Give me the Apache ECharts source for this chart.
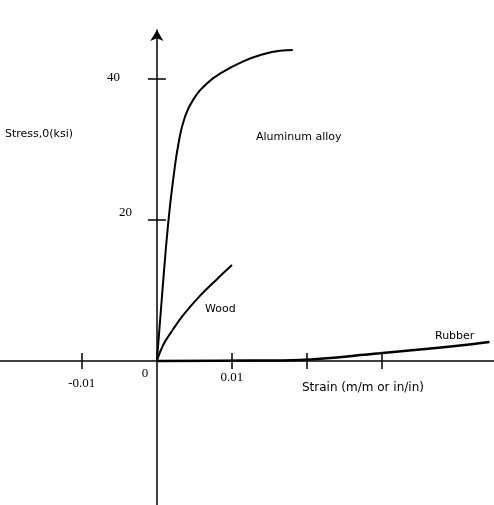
<!DOCTYPE html>
<html><head><meta charset="utf-8">
<script src="https://cdn.jsdelivr.net/npm/echarts@6/dist/echarts.min.js"></script>
<style>html,body{margin:0;padding:0;background:#fff}#c{width:494px;height:505px}</style>
</head><body><div id="c"></div>
<script>
// Data
const aluminumStrain = [0, 0.0007, 0.0015, 0.0022, 0.0029, 0.0037, 0.0048, 0.0067, 0.0088, 0.0115, 0.0141, 0.0164, 0.0181];
const aluminumStress = [0, 9.5, 19.5, 26, 31, 34.5, 37, 39.4, 41, 42.5, 43.5, 44, 44.1];
const woodStrain = [0, 0.0008, 0.0021, 0.0035, 0.0057, 0.008, 0.01];
const woodStress = [0, 2.2, 4.4, 6.5, 9.2, 11.6, 13.6];
const rubberStrain = [0, 0.0124, 0.019, 0.0297, 0.0368, 0.0413, 0.0443];
const rubberStress = [0, 0.05, 0.15, 1.1, 1.8, 2.3, 2.7];
const xTicks = [-0.01, 0.01, 0.02, 0.03];
const xTickLabels = [-0.01, 0, 0.01];
const yTicks = [20, 40];
const yTickLabels = [20, 40];
const labels = {
  stress: 'Stress,0(ksi)',
  strain: 'Strain (m/m or in/in)',
  aluminum: 'Aluminum alloy',
  wood: 'Wood',
  rubber: 'Rubber'
};

const pairs = (xs, ys) => xs.map((x, i) => [x, ys[i]]);
const W = 494, H = 505, GRID_TOP = 30;
const X_MIN = -0.0209, X_MAX = 0.0449, Y_MIN = -20.43, Y_MAX = 46.95;
// pixel position of the zero lines inside the grid (derived from the scales)
const zeroX = W * (0 - X_MIN) / (X_MAX - X_MIN);
const zeroY = GRID_TOP + (H - GRID_TOP) * (Y_MAX - 0) / (Y_MAX - Y_MIN);
const serif = 'Liberation Serif';

const chart = echarts.init(document.getElementById('c'), null, {renderer: 'canvas'});
const lineStyleAxis = {color: '#000', width: 1.5};
chart.setOption({
  animation: false,
  backgroundColor: '#fff',
  grid: {left: 0, right: 0, top: GRID_TOP, bottom: 0, containLabel: false, outerBoundsMode: 'none'},
  xAxis: [{
    type: 'value', min: X_MIN, max: X_MAX, position: 'bottom', offset: -(H - zeroY),
    axisLine: {show: true, onZero: false, lineStyle: lineStyleAxis},
    axisTick: {show: true, inside: false, length: 8, customValues: xTicks, lineStyle: lineStyleAxis},
    axisLabel: {
      show: true, customValues: xTickLabels, margin: 6, color: '#000',
      fontFamily: serif, fontSize: 13, hideOverlap: false,
      formatter: v => v === 0 ? '{z|0}' : (v < 0 ? '{n|' + v + '}' : '{p|' + v + '}'),
      rich: {
        z: {fontFamily: serif, fontSize: 13, color: '#000', padding: [0, 24, 0, 0]},
        n: {fontFamily: serif, fontSize: 13, color: '#000', padding: [10, 0, 0, 0]},
        p: {fontFamily: serif, fontSize: 13, color: '#000', padding: [4, 0, 0, 0]}
      }
    },
    splitLine: {show: false}
  }, {
    type: 'value', min: X_MIN, max: X_MAX, position: 'top', offset: -(zeroY - GRID_TOP),
    axisLine: {show: false, onZero: false},
    axisTick: {show: true, inside: false, length: 8, customValues: xTicks, lineStyle: lineStyleAxis},
    axisLabel: {show: false},
    splitLine: {show: false}
  }],
  yAxis: [{
    type: 'value', min: Y_MIN, max: Y_MAX, position: 'left', offset: -zeroX,
    axisLine: {show: true, onZero: false, lineStyle: lineStyleAxis, symbol: ['none', 'arrow'], symbolSize: [10, 11]},
    axisTick: {show: true, inside: false, length: 9, customValues: yTicks, lineStyle: lineStyleAxis},
    axisLabel: {
      show: true, customValues: yTickLabels, margin: 25, color: '#000',
      fontFamily: serif, fontSize: 13, hideOverlap: false,
      formatter: v => v === 40 ? '{a|' + v + '}' : '{b|' + v + '}',
      rich: {
        a: {fontFamily: serif, fontSize: 13, color: '#000', padding: [0, 12, 2, 0]},
        b: {fontFamily: serif, fontSize: 13, color: '#000', padding: [0, 0, 14, 0]}
      }
    },
    splitLine: {show: false}
  }, {
    type: 'value', min: Y_MIN, max: Y_MAX, position: 'right', offset: -(W - zeroX),
    axisLine: {show: false, onZero: false},
    axisTick: {show: true, inside: false, length: 9, customValues: yTicks, lineStyle: lineStyleAxis},
    axisLabel: {show: false},
    splitLine: {show: false}
  }],
  series: [{
    name: labels.aluminum, type: 'line', data: pairs(aluminumStrain, aluminumStress),
    smooth: 0.5, showSymbol: false,
    lineStyle: {color: '#000', width: 2}
  }, {
    name: labels.wood, type: 'line', data: pairs(woodStrain, woodStress),
    smooth: 0.4, showSymbol: false,
    lineStyle: {color: '#000', width: 2}
  }, {
    name: labels.rubber, type: 'line', data: pairs(rubberStrain, rubberStress),
    smooth: 0.4, showSymbol: false,
    lineStyle: {color: '#000', width: 2.5}
  }],
  graphic: [
    {type: 'text', left: 5, top: 129, style: {text: labels.stress, font: '11px "DejaVu Sans"', fill: '#000'}},
    {type: 'text', left: 256, top: 132, style: {text: labels.aluminum, font: '11px "DejaVu Sans"', fill: '#000'}},
    {type: 'text', left: 205, top: 304, style: {text: labels.wood, font: '11px "DejaVu Sans"', fill: '#000'}},
    {type: 'text', left: 435, top: 331, style: {text: labels.rubber, font: '11px "DejaVu Sans"', fill: '#000'}},
    {type: 'text', left: 302, top: 382, style: {text: labels.strain, font: '12px "DejaVu Sans"', fill: '#000'}}
  ]
});
</script></body></html>
